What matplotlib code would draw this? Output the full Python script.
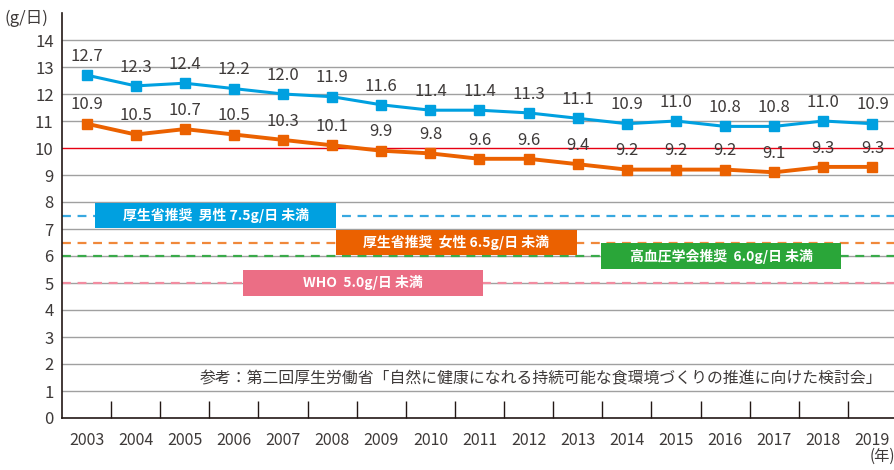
import matplotlib.pyplot as plt
from matplotlib.patches import Rectangle

plt.rcParams['font.family'] = ['Noto Sans CJK JP', 'DejaVu Sans']

# data
years = ['2003', '2004', '2005', '2006', '2007', '2008', '2009', '2010', '2011',
         '2012', '2013', '2014', '2015', '2016', '2017', '2018', '2019']
male = [12.7, 12.3, 12.4, 12.2, 12.0, 11.9, 11.6, 11.4, 11.4, 11.3, 11.1,
        10.9, 11.0, 10.8, 10.8, 11.0, 10.9]
female = [10.9, 10.5, 10.7, 10.5, 10.3, 10.1, 9.9, 9.8, 9.6, 9.6, 9.4,
          9.2, 9.2, 9.2, 9.1, 9.3, 9.3]
target_labels = ['厚生省推奨  男性 7.5g/日 未満', '厚生省推奨  女性 6.5g/日 未満',
                 '高血圧学会推奨  6.0g/日 未満', 'WHO  5.0g/日 未満']
target_values = [7.5, 6.5, 6.0, 5.0]
target_colors = ['#00a0e0', '#eb6100', '#2aa639', '#eb6e85']
line_colors = ['#38a8e0', '#f0883a', '#3aaa4a', '#f28ca0']
# box x-ranges in category units (start, end)
box_x = [(0.18, 5.08), (5.08, 9.98), (10.47, 15.37), (3.18, 8.08)]

blue = '#00a0e0'
orange = '#eb6100'

fig = plt.figure(figsize=(8.95, 4.70), dpi=100)
ax = fig.add_axes([62 / 895, 52 / 470, 835 / 895, 405 / 470])

x = list(range(len(years)))
ax.set_xlim(-0.5, 16.5)
ax.set_ylim(0, 15)

# grid
for v in range(1, 15):
    ax.axhline(v, color='#e60012' if v == 10 else '#a0a0a0', lw=1.0, zorder=1)

# targets
for lab, val, c, lc, (x0, x1) in zip(target_labels, target_values, target_colors, line_colors, box_x):
    ax.axhline(val, color=lc, lw=1.6, ls=(0, (4, 3)), zorder=2)
    ax.add_patch(Rectangle((x0, val - 0.47), x1 - x0, 0.94, facecolor=c,
                           edgecolor='none', zorder=3))
    ax.text((x0 + x1) / 2, val, lab, color='white', fontsize=10, fontweight='bold',
            ha='center', va='center', zorder=4)

ax.plot(x, male, color=blue, lw=2.2, marker='s', ms=7, zorder=5)
ax.plot(x, female, color=orange, lw=2.8, marker='s', ms=7, zorder=5)

for i in x:
    ax.text(i, male[i] + 0.38, f'{male[i]:.1f}', ha='center', va='bottom',
            fontsize=12, color='#3e3a39', zorder=6)
    ax.text(i, female[i] + 0.38, f'{female[i]:.1f}', ha='center', va='bottom',
            fontsize=12, color='#3e3a39', zorder=6)

ax.text(16.2, 1.45, '参考：第二回厚生労働省「自然に健康になれる持続可能な食環境づくりの推進に向けた検討会」',
        ha='right', va='center', fontsize=11.4, color='#3e3a39', zorder=6)

# axes
for s in ['top', 'right']:
    ax.spines[s].set_visible(False)
ax.spines['left'].set_color('#231815')
ax.spines['bottom'].set_color('#231815')
ax.spines['left'].set_linewidth(1.2)
ax.spines['bottom'].set_linewidth(1.2)

ax.set_yticks(range(0, 15))
ax.tick_params(axis='y', length=0, labelsize=12, labelcolor='#3e3a39', pad=6)
ax.set_xticks(x)
ax.set_xticklabels(years)
ax.tick_params(axis='x', length=0, labelsize=11.5, labelcolor='#3e3a39', pad=10)
ax.set_xticks([i + 0.5 for i in x[:-1]], minor=True)
ax.tick_params(axis='x', which='minor', direction='in', length=12, color='#231815', width=1)

fig.text(5 / 895, 1 - 18 / 470, '(g/日)', fontsize=12, color='#3e3a39', va='center', ha='left')
fig.text(1.0, 1 - 456 / 470, '(年)', fontsize=11, color='#3e3a39', va='center', ha='right')

plt.savefig('out.png', dpi=100)
